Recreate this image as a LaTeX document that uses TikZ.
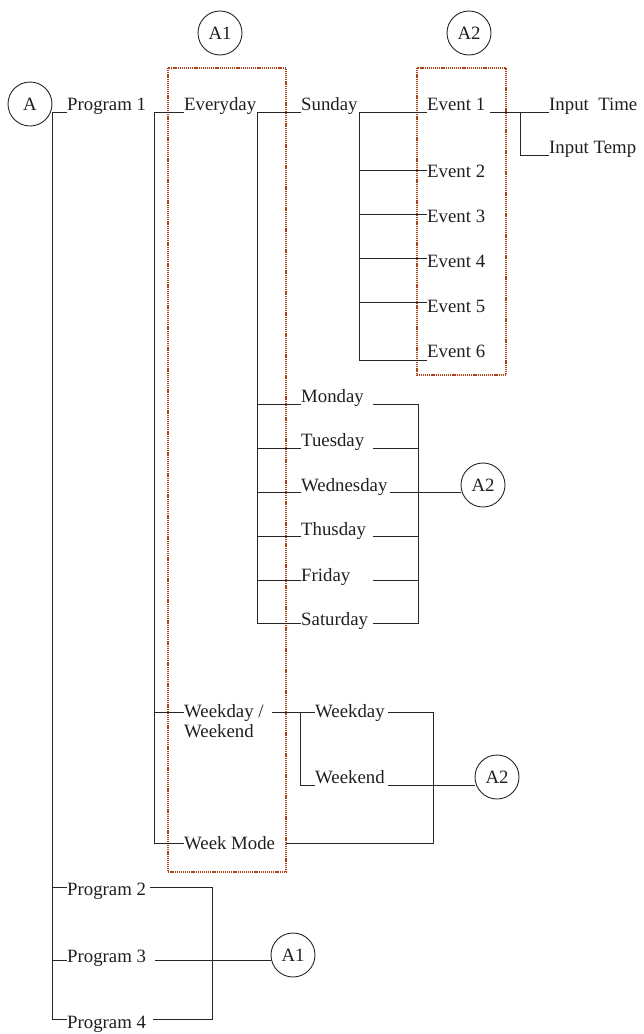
\documentclass[tikz,border=0pt]{standalone}
\usepackage{fontspec}
\setmainfont{Liberation Serif}
\definecolor{boxred}{RGB}{175,65,25}
\begin{document}
\begin{tikzpicture}[x=1pt,y=-1pt,
  font=\fontsize{18.8}{21}\selectfont,
  lbl/.style={inner sep=0pt, anchor=base west, text=black!88},
  refc/.style={circle, draw=black!85, line width=0.9pt, minimum size=44pt, inner sep=0pt, text=black!88},
  conn/.style={line width=0.9pt, draw=black!85},
  grp/.style={draw=boxred, line width=1.6pt, dash pattern=on 1.2pt off 0.9pt}]
\useasboundingbox (0,0) rectangle (643,1034);

% reference circles
\node[refc] (cA)   at (30,104)  {A};
\node[refc] (cA1t) at (220,33)  {A1};
\node[refc] (cA2t) at (469,33)  {A2};
\node[refc] (cA2w) at (483,485) {A2};
\node[refc] (cA2e) at (497,777) {A2};
\node[refc] (cA1b) at (293,955) {A1};

% group boxes
\draw[grp] (168,68) rectangle (286,872);
\draw[grp] (417,68) rectangle (506,375);

% labels
\node[lbl] (p1)  at (67,110)  {Program 1};
\node[lbl] (p2)  at (67,895)  {Program 2};
\node[lbl] (p3)  at (67,962)  {Program 3};
\node[lbl] (p4)  at (67,1028) {Program 4};
\node[lbl] (ev)  at (184,110) {Everyday};
\node[lbl] (wd1) at (184,717) {Weekday /};
\node[lbl] (wd2) at (184,737) {Weekend};
\node[lbl] (wm)  at (184,849) {Week Mode};
\node[lbl] (sun) at (301,110) {Sunday};
\node[lbl] (mon) at (301,402) {Monday};
\node[lbl] (tue) at (301,446) {Tuesday};
\node[lbl] (wed) at (301,491) {Wednesday};
\node[lbl] (thu) at (301,535) {Thusday};
\node[lbl] (fri) at (301,581) {Friday};
\node[lbl] (sat) at (301,625) {Saturday};
\node[lbl] (wkd) at (315,717) {Weekday};
\node[lbl] (wke) at (315,783) {Weekend};
\node[lbl] (e1)  at (427,110) {Event 1};
\node[lbl] (e2)  at (427,177) {Event 2};
\node[lbl] (e3)  at (427,222) {Event 3};
\node[lbl] (e4)  at (427,267) {Event 4};
\node[lbl] (e5)  at (427,312) {Event 5};
\node[lbl] (e6)  at (427,357) {Event 6};
\node[lbl] (itm) at (549,110) {Input\ \ Time};
\node[lbl] (itp) at (549,153) {Input Temp};

% junction coordinates
\coordinate (jA)  at (52,112);
\coordinate (jA2) at (52,887);
\coordinate (jA3) at (52,960);
\coordinate (jA4) at (52,1019);
\coordinate (rP2) at (150,887);
\coordinate (bP2) at (212,887);
\coordinate (rP3) at (155,960);
\coordinate (bP4) at (212,1019);
\coordinate (rP4) at (153,1019);
\coordinate (jE)  at (154,112);
\coordinate (jE2) at (154,712);
\coordinate (jE3) at (154,843);
\coordinate (jS)  at (257,112);
\coordinate (jS1) at (257,404);
\coordinate (jS2) at (257,448);
\coordinate (jS3) at (257,492);
\coordinate (jS4) at (257,536);
\coordinate (jS5) at (257,580);
\coordinate (jS6) at (257,623);
\coordinate (rD1) at (373,404);
\coordinate (rD2) at (373,448);
\coordinate (rD3) at (390,492);
\coordinate (rD4) at (373,536);
\coordinate (rD5) at (373,580);
\coordinate (rD6) at (373,623);
\coordinate (bD1) at (418,404);
\coordinate (bD6) at (418,623);
\coordinate (jV)  at (359,112);
\coordinate (jV2) at (359,170);
\coordinate (jV3) at (359,214);
\coordinate (jV4) at (359,258);
\coordinate (jV5) at (359,302);
\coordinate (jV6) at (359,360);
\coordinate (rE1) at (490,112);
\coordinate (jI)  at (520,112);
\coordinate (jI2) at (520,155);
\coordinate (rW1) at (272,712);
\coordinate (jW)  at (300,712);
\coordinate (jW2) at (300,785);
\coordinate (rW2) at (388,712);
\coordinate (bW)  at (433,712);
\coordinate (bW3) at (433,843);
\coordinate (rWM) at (286,843);
\coordinate (rWE) at (388,785);

% program level
\draw[conn] (jA -| p1.west) -- (jA) -- (jA4) -- (jA4 -| p4.west);
\draw[conn] (jA2) -- (jA2 -| p2.west);
\draw[conn] (jA3) -- (jA3 -| p3.west);
\draw[conn] (rP2) -- (bP2) -- (bP4) -- (rP4);
\draw[conn] (rP3) -- (rP3 -| cA1b.west);

% mode level
\draw[conn] (jE -| ev.west) -- (jE) -- (jE3) -- (jE3 -| wm.west);
\draw[conn] (jE2) -- (jE2 -| wd1.west);

% days
\draw[conn] (jS -| sun.west) -- (jS) -- (jS6) -- (jS6 -| sat.west);
\draw[conn] (jS1) -- (jS1 -| mon.west);
\draw[conn] (jS2) -- (jS2 -| tue.west);
\draw[conn] (jS3) -- (jS3 -| wed.west);
\draw[conn] (jS4) -- (jS4 -| thu.west);
\draw[conn] (jS5) -- (jS5 -| fri.west);
\draw[conn] (rD1) -- (bD1) -- (bD6) -- (rD6);
\draw[conn] (rD2) -- (rD2 -| bD1);
\draw[conn] (rD4) -- (rD4 -| bD1);
\draw[conn] (rD5) -- (rD5 -| bD1);
\draw[conn] (rD3) -- (rD3 -| cA2w.west);

% events
\draw[conn] (jV) -- (jV -| e1.west);
\draw[conn] (jV) -- (jV6) -- (jV6 -| e6.west);
\draw[conn] (jV2) -- (jV2 -| e2.west);
\draw[conn] (jV3) -- (jV3 -| e3.west);
\draw[conn] (jV4) -- (jV4 -| e4.west);
\draw[conn] (jV5) -- (jV5 -| e5.west);

% inputs
\draw[conn] (rE1) -- (rE1 -| itm.west);
\draw[conn] (jI) -- (jI2) -- (jI2 -| itp.west);

% weekday / weekend
\draw[conn] (rW1) -- (rW1 -| wkd.west);
\draw[conn] (jW) -- (jW2) -- (jW2 -| wke.west);
\draw[conn] (rW2) -- (bW) -- (bW3) -- (rWM);
\draw[conn] (rWE) -- (rWE -| cA2e.west);
\end{tikzpicture}
\end{document}
